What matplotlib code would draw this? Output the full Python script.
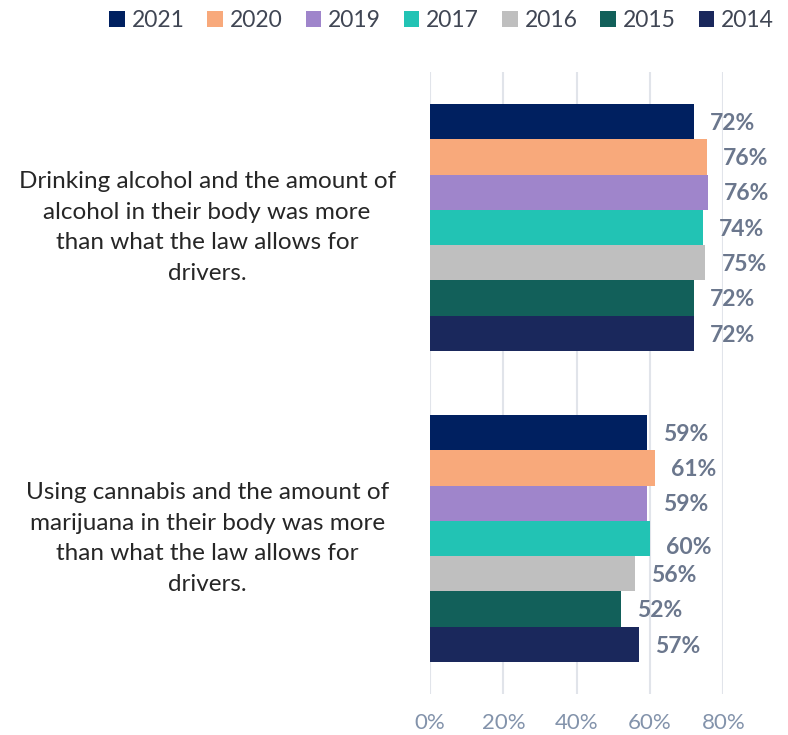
import matplotlib
matplotlib.use("Agg")
import matplotlib.pyplot as plt
from matplotlib.patches import Patch
import numpy as np

# données
categories = [
    "Drinking alcohol and the amount of\nalcohol in their body was more\nthan what the law allows for\ndrivers.",
    "Using cannabis and the amount of\nmarijuana in their body was more\nthan what the law allows for\ndrivers.",
]
years = ["2021", "2020", "2019", "2017", "2016", "2015", "2014"]
alcohol = [72, 75.6, 75.8, 74.4, 75.1, 72, 72]
cannabis = [59.1, 61.4, 59.3, 60, 56, 52, 57.1]
labels_alcohol = ["72%", "76%", "76%", "74%", "75%", "72%", "72%"]
labels_cannabis = ["59%", "61%", "59%", "60%", "56%", "52%", "57%"]
colors = ["#002060", "#F8A97B", "#9F85CB", "#22C3B4", "#BFBFBF", "#12605A", "#1A285C"]

plt.rcParams['font.family'] = ['Lato', 'DejaVu Sans']

W, H = 788, 735
fig = plt.figure(figsize=(W / 100, H / 100), dpi=100)
# axes en pixels : x 430 -> 723, y 72 -> 694
ax = fig.add_axes([430 / W, 1 - 694 / H, (723.3 - 430) / W, (694 - 72) / H])

n = len(years)
bh = 0.795 / n
values = np.array([alcohol, cannabis])
texts = [labels_alcohol, labels_cannabis]
for i, yr in enumerate(years):
    ypos = np.arange(len(categories)) - 0.795 / 2 + bh * (i + 0.5)
    ax.barh(ypos, values[:, i], height=bh, color=colors[i], edgecolor='none', zorder=3)
    for j in range(len(categories)):
        dy = 0.028 if (j == 1 and yr == "2017") else 0.005
        ax.text(values[j, i] + 4.4, ypos[j] + dy, texts[j][i], va='center', ha='left',
                fontsize=16.5, fontweight='bold', color='#6B778D', clip_on=False)

ax.set_ylim(1.5, -0.5)
ax.set_xlim(0, 80)
ax.set_xticks([0, 20, 40, 60, 80])
ax.set_xticklabels(["0%", "20%", "40%", "60%", "80%"])
ax.tick_params(axis='x', length=0, pad=14, labelsize=16, labelcolor='#8393AB')
ax.set_yticks([])
ax.grid(axis='x', color='#E1E4EA', linewidth=1.5, zorder=0)
for s in ax.spines.values():
    s.set_visible(False)

for j, cat in enumerate(categories):
    ax.text(-0.76, j, cat, transform=ax.get_yaxis_transform(), ha='center', va='center',
            multialignment='center', fontsize=17.5, color='#262626', linespacing=1.58)

handles = [Patch(facecolor=c, edgecolor='none') for c in colors]
fig.legend(handles, years, loc='upper right', bbox_to_anchor=(790 / W, 1 + 6 / H), ncol=n,
           frameon=False, fontsize=16.5, labelcolor='#404654', handlelength=0.68,
           handleheight=0.68, handletextpad=0.3, columnspacing=1.0, borderaxespad=0.3)

fig.savefig("out.png", dpi=100)
